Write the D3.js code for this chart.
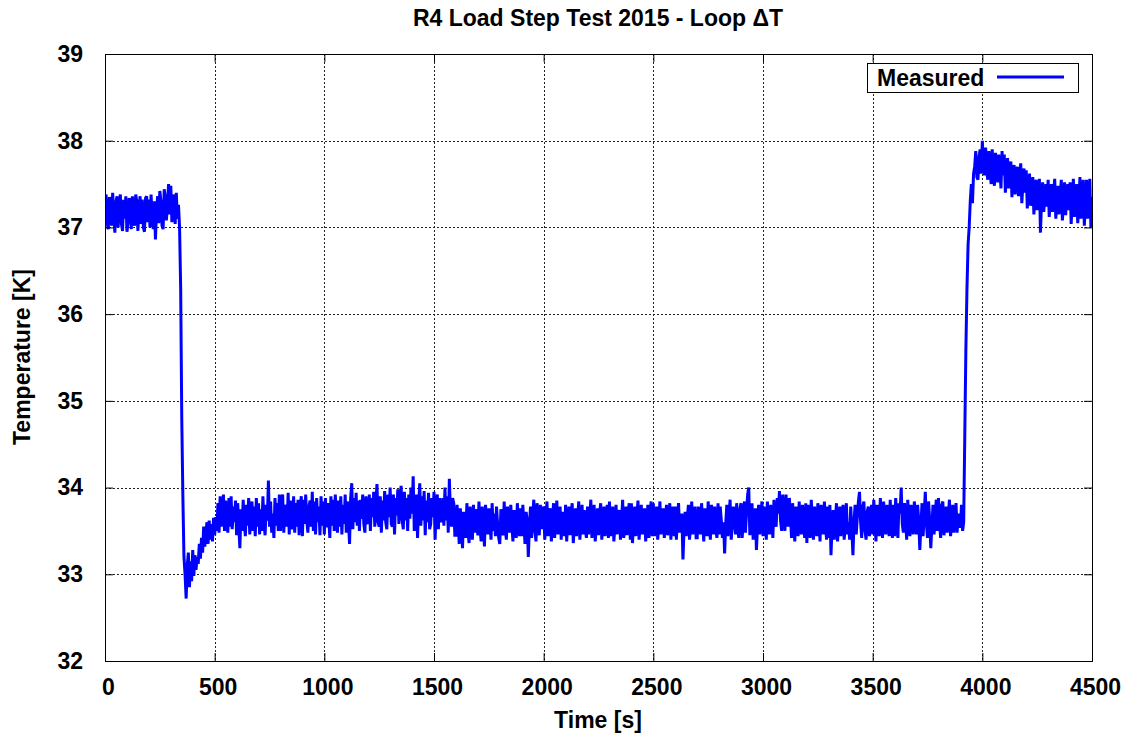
<!DOCTYPE html>
<html>
<head>
<meta charset="utf-8">
<script src="https://cdn.jsdelivr.net/npm/d3@7"></script>
<style>
  html, body { margin: 0; padding: 0; background: #fff; }
  svg text { font-family: "Liberation Sans", Arial, Helvetica, sans-serif; fill: #000; font-weight: bold; }
</style>
</head>
<body>
<svg id="chart" width="1130" height="739"></svg>
<script>
// Loop delta-T during the R4 load step test, logged every 5 s (one row = 100 s).
const sampleStep = 5;                // seconds between samples
const deltaT = [
  // 0 - 295 s: steady state before the load step
  37.22, 37.38, 37.05, 36.98, 37.35, 37.30, 37.02, 37.40, 37.12, 36.94, 37.30, 37.36, 37.00, 37.28, 37.38, 37.04, 36.96, 37.32, 37.10, 37.36,
  36.95, 37.05, 37.34, 37.28, 36.98, 37.36, 37.10, 37.02, 37.38, 37.30, 36.96, 37.22, 37.36, 37.04, 37.32, 37.00, 36.95, 37.34, 37.36, 37.06,
  37.32, 37.00, 37.38, 37.12, 36.98, 37.30, 36.86, 37.20, 37.36, 37.05, 37.42, 37.30, 37.02, 36.98, 37.44, 37.34, 37.08, 37.28, 37.50, 37.15,
  // 300 - 695 s: load step down and settling
  37.48, 37.06, 37.38, 37.30, 37.04, 37.40, 37.10, 37.26, 37.00, 36.30, 34.80, 33.90, 33.20, 33.00, 32.72, 33.10, 33.25, 32.85, 33.15, 32.92,
  33.28, 32.98, 33.22, 33.05, 33.20, 33.12, 33.35, 33.18, 33.42, 33.25, 33.55, 33.32, 33.48, 33.60, 33.35, 33.62, 33.40, 33.58, 33.38, 33.65,
  33.45, 33.66, 33.50, 33.82, 33.48, 33.90, 33.55, 33.72, 33.92, 33.50, 33.85, 33.60, 33.48, 33.88, 33.55, 33.90, 33.52, 33.78, 33.60, 33.85,
  33.45, 33.82, 33.55, 33.30, 33.75, 33.50, 33.86, 33.60, 33.44, 33.80, 33.56, 33.88, 33.46, 33.72, 33.84, 33.50, 33.78, 33.44, 33.88, 33.55,
  // 700 - 1595 s
  33.82, 33.46, 33.75, 33.50, 33.90, 33.58, 33.45, 33.80, 33.62, 34.08, 33.55, 33.84, 33.48, 33.70, 33.42, 33.88, 33.56, 33.82, 33.50, 33.92,
  33.50, 33.85, 33.92, 33.48, 33.74, 33.80, 33.55, 33.94, 33.46, 33.85, 33.60, 33.52, 33.90, 33.48, 33.82, 33.55, 33.86, 33.45, 33.78, 33.90,
  33.44, 33.86, 33.58, 33.92, 33.62, 33.48, 33.78, 33.85, 33.55, 33.95, 33.50, 33.84, 33.46, 33.88, 33.60, 33.78, 33.45, 33.90, 33.56, 33.84,
  33.46, 33.88, 33.54, 33.82, 33.66, 33.42, 33.90, 33.56, 33.86, 33.50, 33.92, 33.62, 33.48, 33.85, 33.55, 33.90, 33.46, 33.80, 33.58, 33.92,
  33.48, 33.84, 33.60, 33.35, 33.88, 34.05, 33.52, 33.88, 33.60, 33.94, 33.56, 33.85, 33.50, 33.86, 33.64, 33.92, 33.58, 33.48, 33.90, 33.62,
  33.58, 33.92, 33.50, 33.88, 33.66, 33.95, 33.55, 33.82, 34.04, 33.60, 33.55, 33.90, 33.48, 33.85, 33.62, 33.96, 33.60, 33.52, 33.92, 33.66,
  34.00, 33.58, 33.55, 33.92, 33.46, 33.88, 33.68, 33.98, 33.58, 33.85, 34.02, 33.62, 33.52, 33.95, 33.62, 33.88, 33.50, 33.92, 33.64, 34.00,
  33.70, 34.13, 33.50, 33.85, 33.92, 33.42, 33.80, 34.05, 33.56, 33.90, 33.62, 33.96, 33.45, 33.85, 33.60, 33.94, 33.52, 33.58, 33.88, 33.66,
  33.95, 33.40, 33.80, 33.92, 33.52, 33.88, 33.65, 33.60, 33.88, 33.56, 34.00, 33.62, 33.90, 33.48, 34.10, 33.70, 33.55, 33.88, 33.82, 33.45,
  // 1600 - 2595 s
  33.45, 33.80, 33.62, 33.35, 33.76, 33.55, 33.30, 33.72, 33.60, 33.42, 33.82, 33.50, 33.36, 33.78, 33.58, 33.40, 33.80, 33.48, 33.75, 33.62,
  33.45, 33.84, 33.52, 33.38, 33.78, 33.60, 33.32, 33.80, 33.56, 33.46, 33.76, 33.62, 33.40, 33.82, 33.50, 33.70, 33.44, 33.78, 33.58, 33.42,
  33.35, 33.75, 33.60, 33.45, 33.84, 33.52, 33.40, 33.78, 33.62, 33.48, 33.80, 33.56, 33.38, 33.74, 33.60, 33.42, 33.82, 33.55, 33.44, 33.76,
  33.44, 33.80, 33.58, 33.35, 33.72, 33.62, 33.20, 33.55, 33.78, 33.42, 33.66, 33.86, 33.50, 33.38, 33.82, 33.60, 33.45, 33.80, 33.52, 33.74,
  33.78, 33.40, 33.62, 33.84, 33.44, 33.70, 33.76, 33.38, 33.58, 33.82, 33.42, 33.66, 33.85, 33.46, 33.55, 33.78, 33.40, 33.72, 33.60, 33.44,
  33.80, 33.38, 33.62, 33.78, 33.45, 33.70, 33.82, 33.36, 33.58, 33.76, 33.44, 33.66, 33.84, 33.40, 33.56, 33.80, 33.46, 33.74, 33.52, 33.42,
  33.78, 33.46, 33.64, 33.86, 33.42, 33.60, 33.80, 33.38, 33.55, 33.76, 33.45, 33.70, 33.82, 33.40, 33.58, 33.78, 33.44, 33.66, 33.80, 33.42,
  33.84, 33.44, 33.62, 33.78, 33.38, 33.56, 33.80, 33.46, 33.68, 33.74, 33.40, 33.60, 33.86, 33.42, 33.55, 33.78, 33.45, 33.70, 33.82, 33.40,
  33.82, 33.36, 33.60, 33.78, 33.44, 33.66, 33.85, 33.40, 33.58, 33.80, 33.46, 33.64, 33.76, 33.38, 33.56, 33.80, 33.42, 33.68, 33.84, 33.44,
  33.82, 33.44, 33.62, 33.78, 33.40, 33.58, 33.84, 33.46, 33.66, 33.76, 33.42, 33.60, 33.80, 33.45, 33.56, 33.82, 33.40, 33.70, 33.78, 33.44,
  // 2600 - 3895 s
  33.78, 33.40, 33.64, 33.82, 33.48, 33.58, 33.70, 33.17, 33.52, 33.72, 33.44, 33.66, 33.80, 33.40, 33.56, 33.84, 33.46, 33.62, 33.78, 33.42,
  33.42, 33.78, 33.60, 33.46, 33.82, 33.56, 33.38, 33.76, 33.64, 33.44, 33.84, 33.58, 33.40, 33.80, 33.66, 33.46, 33.78, 33.52, 33.42, 33.82,
  33.46, 33.78, 33.62, 33.42, 33.60, 33.24, 33.58, 33.80, 33.44, 33.66, 33.86, 33.40, 33.56, 33.78, 33.62, 33.46, 33.82, 33.50, 33.42, 33.76,
  33.82, 33.42, 33.64, 33.84, 33.48, 33.72, 33.92, 34.00, 33.45, 33.66, 33.82, 33.40, 33.58, 33.76, 33.28, 33.56, 33.80, 33.46, 33.62, 33.84,
  33.44, 33.78, 33.60, 33.40, 33.84, 33.56, 33.46, 33.80, 33.66, 33.42, 33.86, 33.60, 33.55, 33.88, 33.70, 33.96, 33.62, 33.50, 33.92, 33.66,
  33.50, 33.92, 33.62, 33.55, 33.88, 33.70, 33.42, 33.82, 33.58, 33.38, 33.78, 33.60, 33.44, 33.84, 33.56, 33.46, 33.80, 33.62, 33.42, 33.82,
  33.36, 33.80, 33.58, 33.42, 33.86, 33.62, 33.40, 33.78, 33.56, 33.44, 33.82, 33.64, 33.38, 33.80, 33.58, 33.46, 33.84, 33.55, 33.40, 33.78,
  33.42, 33.80, 33.22, 33.56, 33.74, 33.40, 33.62, 33.82, 33.38, 33.58, 33.78, 33.44, 33.66, 33.80, 33.40, 33.56, 33.82, 33.46, 33.60, 33.40,
  33.78, 33.52, 33.22, 33.60, 33.80, 33.46, 33.66, 33.84, 33.95, 33.60, 33.42, 33.78, 33.84, 33.50, 33.40, 33.72, 33.78, 33.44, 33.62, 33.80,
  33.46, 33.86, 33.60, 33.38, 33.80, 33.58, 33.44, 33.88, 33.62, 33.42, 33.84, 33.56, 33.46, 33.80, 33.66, 33.44, 33.86, 33.58, 33.42, 33.80,
  33.44, 33.88, 33.62, 33.42, 33.82, 33.70, 34.00, 33.58, 33.48, 33.82, 33.64, 33.40, 33.86, 33.60, 33.44, 33.80, 33.66, 33.46, 33.84, 33.58,
  33.46, 33.80, 33.62, 33.28, 33.56, 33.82, 33.44, 33.70, 33.95, 33.58, 33.42, 33.84, 33.62, 33.30, 33.55, 33.80, 33.46, 33.66, 33.86, 33.50,
  33.88, 33.58, 33.42, 33.80, 33.84, 33.45, 33.62, 33.78, 33.48, 33.66, 33.86, 33.44, 33.58, 33.80, 33.48, 33.62, 33.82, 33.48, 33.70, 33.55,
  // 3900 - 4500 s: load step up, overshoot and recovery
  33.55, 33.80, 33.50, 33.60, 34.60, 35.60, 36.30, 36.80, 37.00, 37.30, 37.50, 37.28, 37.62, 37.70, 37.88, 37.58, 37.55, 37.82, 37.90, 37.62,
  38.00, 37.70, 37.60, 37.92, 37.64, 37.55, 37.88, 37.72, 37.50, 37.90, 37.62, 37.48, 37.86, 37.70, 37.52, 37.84, 37.66, 37.45, 37.88, 37.60,
  37.84, 37.40, 37.62, 37.80, 37.45, 37.70, 37.76, 37.35, 37.58, 37.72, 37.38, 37.64, 37.70, 37.36, 37.55, 37.74, 37.28, 37.50, 37.68, 37.40,
  37.66, 37.22, 37.48, 37.62, 37.25, 37.40, 37.58, 37.15, 37.38, 37.55, 37.20, 37.42, 37.56, 36.94, 37.30, 37.52, 37.18, 37.36, 37.50, 37.24,
  37.55, 37.12, 37.34, 37.50, 37.18, 37.40, 37.56, 37.10, 37.30, 37.48, 37.15, 37.36, 37.55, 37.08, 37.28, 37.52, 37.14, 37.38, 37.50, 37.20,
  37.52, 37.04, 37.30, 37.56, 37.12, 37.38, 37.50, 37.05, 37.26, 37.58, 37.10, 37.34, 37.55, 37.02, 37.28, 37.55, 37.10, 37.40, 37.56, 37.00,
  37.35
];
const timeS = deltaT.map((_, i) => i * sampleStep);

const xTicks = [0, 500, 1000, 1500, 2000, 2500, 3000, 3500, 4000, 4500];
const yTicks = [32, 33, 34, 35, 36, 37, 38, 39];

const titleText = "R4 Load Step Test 2015 - Loop \u0394T";
const xLabel = "Time [s]";
const yLabel = "Temperature [K]";
const legendLabel = "Measured";

const W = 1130, H = 739;
const margin = { left: 105, right: W - 1092, top: 54, bottom: H - 661 };
const innerW = W - margin.left - margin.right;
const innerH = H - margin.top - margin.bottom;
const fontSize = 23;

const svg = d3.select("#chart");
const g = svg.append("g").attr("transform", `translate(${margin.left},${margin.top})`);

const x = d3.scaleLinear().domain([0, 4500]).range([0, innerW]);
const y = d3.scaleLinear().domain([32, 39]).range([innerH, 0]);

// dotted grid
const grid = g.append("g").attr("stroke", "#222").attr("stroke-width", 1)
  .attr("stroke-dasharray", "2,2").attr("shape-rendering", "crispEdges");
grid.selectAll("line.vx").data(xTicks.slice(1, -1)).join("line")
  .attr("x1", d => Math.round(x(d)) + 0.5).attr("x2", d => Math.round(x(d)) + 0.5)
  .attr("y1", 0).attr("y2", innerH);
grid.selectAll("line.hy").data(yTicks.slice(1, -1)).join("line")
  .attr("x1", 0).attr("x2", innerW)
  .attr("y1", d => Math.round(y(d)) + 0.5).attr("y2", d => Math.round(y(d)) + 0.5);

// data line, clipped to the plot area
svg.append("defs").append("clipPath").attr("id", "plotClip")
  .append("rect").attr("x", 0).attr("y", 0).attr("width", innerW).attr("height", innerH);

const line = d3.line().x((d, i) => x(timeS[i])).y(d => y(d));
g.append("path").datum(deltaT)
  .attr("clip-path", "url(#plotClip)")
  .attr("fill", "none").attr("stroke", "#0000ff").attr("stroke-width", 3)
  .attr("stroke-linejoin", "miter").attr("stroke-miterlimit", 2)
  .attr("d", line);

// axes with inward, mirrored ticks
const tickLen = 8;
const axB = g.append("g").attr("transform", `translate(0,${innerH})`)
  .call(d3.axisBottom(x).tickValues(xTicks).tickSize(-tickLen).tickPadding(tickLen + 10).tickFormat(d3.format("d")));
const axT = g.append("g")
  .call(d3.axisTop(x).tickValues(xTicks).tickSize(-tickLen).tickFormat(""));
const axL = g.append("g")
  .call(d3.axisLeft(y).tickValues(yTicks).tickSize(-tickLen).tickPadding(tickLen + 14).tickFormat(d3.format("d")));
const axR = g.append("g").attr("transform", `translate(${innerW},0)`)
  .call(d3.axisRight(y).tickValues(yTicks).tickSize(-tickLen).tickFormat(""));

[axB, axT, axL, axR].forEach(a => {
  a.select(".domain").remove();
  a.selectAll(".tick line").attr("stroke", "#000").attr("stroke-width", 1);
  a.selectAll("text").attr("font-size", fontSize).attr("font-weight", "bold")
    .attr("font-family", "Liberation Sans, Arial, sans-serif").attr("fill", "#000");
});
axB.selectAll("text").attr("dx", 3);

// plot frame
g.append("rect").attr("x", 0.5).attr("y", 0.5).attr("width", innerW).attr("height", innerH)
  .attr("fill", "none").attr("stroke", "#000").attr("stroke-width", 1);

// title and axis labels
svg.append("text").attr("x", 598).attr("y", 26).attr("text-anchor", "middle")
  .attr("font-size", fontSize).text(titleText);
svg.append("text").attr("x", 598).attr("y", 728).attr("text-anchor", "middle")
  .attr("font-size", fontSize).text(xLabel);
svg.append("text").attr("transform", "translate(30,357) rotate(-90)").attr("text-anchor", "middle")
  .attr("font-size", fontSize).text(yLabel);

// legend
const lg = svg.append("g");
lg.append("rect").attr("x", 867.5).attr("y", 63.5).attr("width", 211).attr("height", 29)
  .attr("fill", "#fff").attr("stroke", "#000").attr("stroke-width", 1);
lg.append("text").attr("x", 877).attr("y", 86).attr("font-size", fontSize).text(legendLabel);
lg.append("line").attr("x1", 997).attr("x2", 1064).attr("y1", 77).attr("y2", 77)
  .attr("stroke", "#0000ff").attr("stroke-width", 3);
</script>
</body>
</html>
